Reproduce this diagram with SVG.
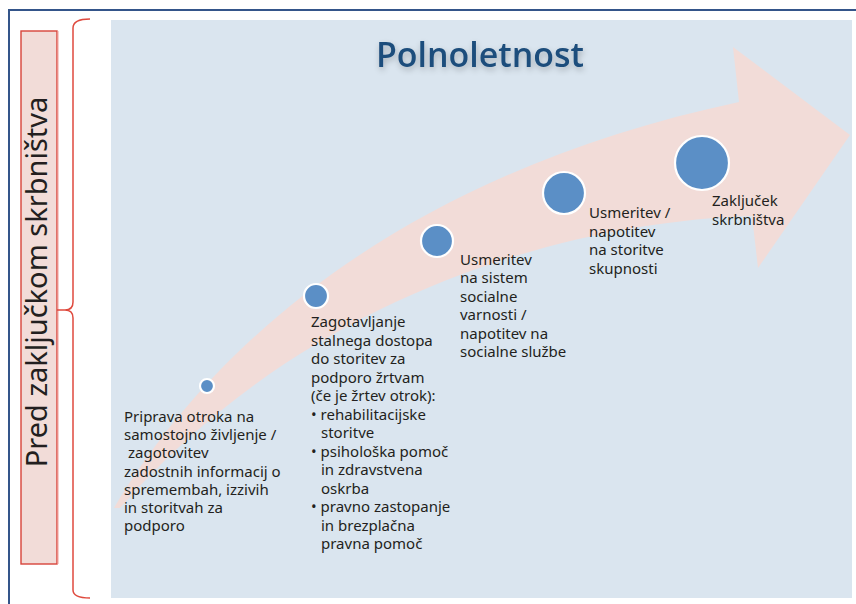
<svg xmlns="http://www.w3.org/2000/svg" width="856" height="604" viewBox="0 0 856 604">
<style>
  .lbl { font-family: "Noto Sans", "Open Sans", sans-serif; font-size: 15px; fill: #231f20; }
  .dot { fill: #5b8fc6; stroke: #ffffff; stroke-width: 2.2; }
</style>
<defs>
  <filter id="shadow" x="-20%" y="-40%" width="140%" height="180%">
    <feGaussianBlur in="SourceAlpha" stdDeviation="3"/>
    <feOffset dx="1" dy="3" result="b"/>
    <feComponentTransfer><feFuncA type="linear" slope="0.25"/></feComponentTransfer>
    <feMerge><feMergeNode/><feMergeNode in="SourceGraphic"/></feMerge>
  </filter>
</defs>
<rect x="0" y="0" width="856" height="604" fill="#ffffff"/>
<path d="M9,604 V10 H856" fill="none" stroke="#34558a" stroke-width="2"/>
<rect x="111" y="20" width="741" height="578" fill="#dae5ef"/>

<g id="side-label">
  <rect x="21" y="31" width="36" height="533" fill="#f2dcd8" stroke="#d8443b" stroke-width="1.4"/>
  <line x1="58" y1="31" x2="58" y2="564" stroke="#f0a09a" stroke-width="1"/>
  <text class="lbl" transform="translate(47,282) rotate(-90)" text-anchor="middle" style="font-size:29px">Pred zaključkom skrbništva</text>
</g>

<g id="brace">
  <path d="M90,19 Q73,19 73,28 L73,302 Q73,310 65,310 L57,310 M65,310 Q73,310 73,318 L73,590 Q73,598 90,598" fill="none" stroke="#df4a3e" stroke-width="1.5"/>
</g>

<g id="title">
  <text x="480" y="67" text-anchor="middle" filter="url(#shadow)" style="font-family:'Open Sans','Noto Sans',sans-serif;font-size:35px;font-weight:600;fill:#1f4e7c" textLength="208" lengthAdjust="spacingAndGlyphs">Polnoletnost</text>
</g>

<g id="arrow">
  <path d="M114,508 C220,330 420,170 739,102 L733,47 L850,135 L758,268 L752,216 C560,222 300,300 120,508 Z" fill="#f2dcd8"/>
</g>

<g id="connectors"></g>

<g id="node1">
  <circle class="dot" cx="207" cy="386" r="7"/>
  <text class="lbl">
    <tspan x="124" y="422">Priprava otroka na</tspan>
    <tspan x="124" y="440.2">samostojno življenje /</tspan>
    <tspan x="128" y="458.4">zagotovitev</tspan>
    <tspan x="124" y="476.6">zadostnih informacij o</tspan>
    <tspan x="124" y="494.8">spremembah, izzivih</tspan>
    <tspan x="124" y="513">in storitvah za</tspan>
    <tspan x="124" y="531.2">podporo</tspan>
  </text>
</g>

<g id="node2">
  <circle class="dot" cx="316" cy="296" r="12"/>
  <text class="lbl">
    <tspan x="311" y="327">Zagotavljanje</tspan>
    <tspan x="311" y="345.5">stalnega dostopa</tspan>
    <tspan x="311" y="364">do storitev za</tspan>
    <tspan x="311" y="382.5">podporo žrtvam</tspan>
    <tspan x="311" y="401">(če je žrtev otrok):</tspan>
    <tspan x="311" y="419.5">• rehabilitacijske</tspan>
    <tspan x="321" y="438">storitve</tspan>
    <tspan x="311" y="456.5">• psihološka pomoč</tspan>
    <tspan x="321" y="475">in zdravstvena</tspan>
    <tspan x="321" y="493.5">oskrba</tspan>
    <tspan x="311" y="512">• pravno zastopanje</tspan>
    <tspan x="321" y="530.5">in brezplačna</tspan>
    <tspan x="321" y="549">pravna pomoč</tspan>
  </text>
</g>

<g id="node3">
  <circle class="dot" cx="437" cy="241" r="16"/>
  <text class="lbl">
    <tspan x="460" y="265">Usmeritev</tspan>
    <tspan x="460" y="283.4">na sistem</tspan>
    <tspan x="460" y="301.8">socialne</tspan>
    <tspan x="460" y="320.2">varnosti /</tspan>
    <tspan x="460" y="338.6">napotitev na</tspan>
    <tspan x="460" y="357">socialne službe</tspan>
  </text>
</g>

<g id="node4">
  <circle class="dot" cx="564" cy="193" r="21"/>
  <text class="lbl">
    <tspan x="589" y="218">Usmeritev /</tspan>
    <tspan x="589" y="236.5">napotitev</tspan>
    <tspan x="589" y="255">na storitve</tspan>
    <tspan x="589" y="273.5">skupnosti</tspan>
  </text>
</g>

<g id="node5">
  <circle class="dot" cx="702" cy="163" r="27"/>
  <text class="lbl">
    <tspan x="712" y="206">Zaključek</tspan>
    <tspan x="712" y="224.5">skrbništva</tspan>
  </text>
</g>
</svg>
